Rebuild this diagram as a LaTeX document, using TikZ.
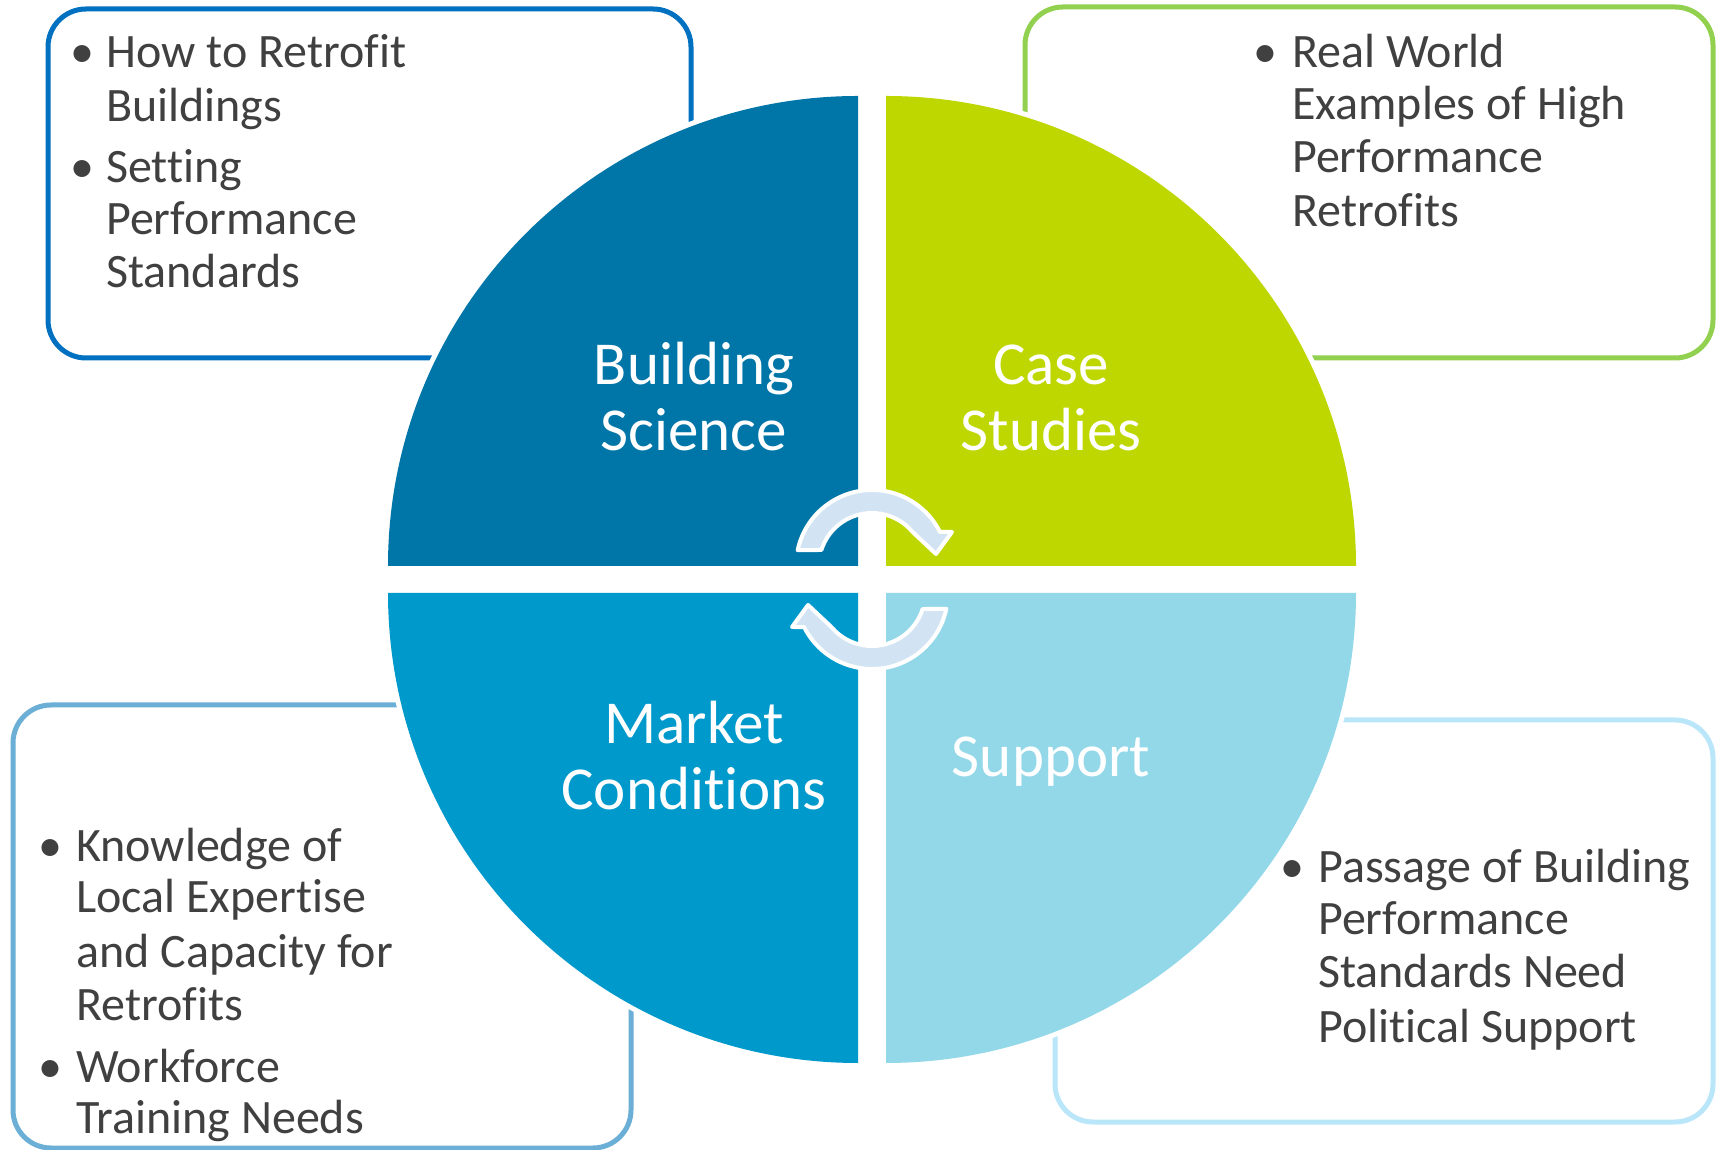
\documentclass[tikz,border=0pt]{standalone}
\usepackage{fontspec}
\setmainfont[Ligatures={NoCommon}]{Carlito}
\definecolor{qTL}{RGB}{0,118,168}
\definecolor{qTR}{RGB}{190,215,0}
\definecolor{qBL}{RGB}{0,153,204}
\definecolor{qBR}{RGB}{146,216,232}
\definecolor{bTL}{RGB}{0,112,192}
\definecolor{bTR}{RGB}{146,208,80}
\definecolor{bBL}{RGB}{107,174,214}
\definecolor{bBR}{RGB}{186,230,250}
\definecolor{tgray}{RGB}{64,64,64}
\definecolor{arrfill}{RGB}{210,228,244}
\begin{document}
\begin{tikzpicture}[x=1pt,y=1pt,
  txt/.style={anchor=base west, inner sep=0pt, text=tgray, font=\fontsize{48}{56}\selectfont},
  bul/.style={anchor=base, inner sep=0pt, text=tgray, font=\fontsize{48}{56}\selectfont},
  lab/.style={anchor=base, inner sep=0pt, text=white, font=\fontsize{61}{66}\selectfont},
  boxst/.style={rounded corners=38pt, line width=5pt},
  halo/.style={draw=white, line width=10pt},
  arrst/.style={fill=arrfill, draw=white, line width=4pt, line join=round}]
\useasboundingbox (0,0) rectangle (1716,1149);
\fill[white] (0,0) rectangle (1716,1149);
% boxes
\draw[boxst, bTL] (48,791) rectangle (691,1140);
\draw[boxst, bTR] (1025,791) rectangle (1713,1142);
\draw[boxst, bBL] (13,1) rectangle (631,444);
\draw[boxst, bBR] (1055,27) rectangle (1713,429);
% quadrant halos
\draw[halo] (858,583) -- ++(-470,0) arc[start angle=180,end angle=90,radius=470] -- cycle;
\draw[halo] (886,583) -- ++(0,470) arc[start angle=90,end angle=0,radius=470] -- cycle;
\draw[halo] (858,556) -- ++(0,-470) arc[start angle=270,end angle=180,radius=470] -- cycle;
\draw[halo] (886,556) -- ++(470,0) arc[start angle=0,end angle=-90,radius=470] -- cycle;
% quadrants
\fill[qTL] (858,583) -- ++(-470,0) arc[start angle=180,end angle=90,radius=470] -- cycle;
\fill[qTR] (886,583) -- ++(0,470) arc[start angle=90,end angle=0,radius=470] -- cycle;
\fill[qBL] (858,556) -- ++(0,-470) arc[start angle=270,end angle=180,radius=470] -- cycle;
\fill[qBR] (886,556) -- ++(470,0) arc[start angle=0,end angle=-90,radius=470] -- cycle;
% cycle arrows
\begin{scope}[shift={(872,583)}]
\path[arrst] (168:76) arc[start angle=168,end angle=26.6,radius=76] -- (80,34) -- (64,12) -- (40.6,34) arc[start angle=39.9,end angle=162.4,radius=53] -- cycle;
\end{scope}
\begin{scope}[shift={(872,556)}, rotate=180]
\path[arrst] (168:76) arc[start angle=168,end angle=26.6,radius=76] -- (80,34) -- (64,12) -- (40.6,34) arc[start angle=39.9,end angle=162.4,radius=53] -- cycle;
\end{scope}
% quadrant labels
\node[lab] (l1a) at (694,764) {Building};
\node[lab] (l1b) at (694,698) {Science};
\node[lab] (l2a) at (1051,764) {Case};
\node[lab] (l2b) at (1051,698) {Studies};
\node[lab] (l3a) at (694,405) {Market};
\node[lab] (l3b) at (694,339) {Conditions};
\node[lab] (l4a) at (1051,372) {Support};
% TL text
\node[bul] (b1) at (82,1081) {•};
\node[txt] (t1) at (106,1081) {How to Retrofit};
\node[txt] (t2) at (106,1027) {Buildings};
\node[bul] (b2) at (82,966) {•};
\node[txt] (t3) at (106,966) {Setting};
\node[txt] (t4) at (106,914) {Performance};
\node[txt] (t5) at (106,861) {Standards};
% TR text
\node[bul] (b3) at (1265,1081) {•};
\node[txt] (r1) at (1292,1081) {Real World};
\node[txt] (r2) at (1292,1029) {Examples of High};
\node[txt] (r3) at (1292,976) {Performance};
\node[txt] (r4) at (1292,922) {Retrofits};
% BL text
\node[bul] (b4) at (50,287) {•};
\node[txt] (k1) at (76,287) {Knowledge of};
\node[txt] (k2) at (76,236) {Local Expertise};
\node[txt] (k3) at (76,182) {and Capacity for};
\node[txt] (k4) at (76,129) {Retrofits};
\node[bul] (b5) at (50,67) {•};
\node[txt] (k5) at (76,67) {Workforce};
\node[txt] (k6) at (76,16) {Training Needs};
% BR text
\node[bul] (b6) at (1292,266) {•};
\node[txt] (p1) at (1318,266) {Passage of Building};
\node[txt] (p2) at (1318,214) {Performance};
\node[txt] (p3) at (1318,161) {Standards Need};
\node[txt] (p4) at (1318,107) {Political Support};
\end{tikzpicture}
\end{document}
